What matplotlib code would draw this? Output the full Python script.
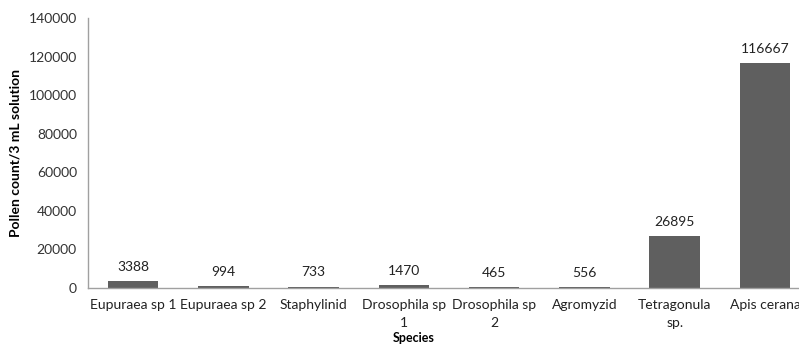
import matplotlib.pyplot as plt

species = ["Eupuraea sp 1", "Eupuraea sp 2", "Staphylinid", "Drosophila sp\n1",
           "Drosophila sp\n2", "Agromyzid", "Tetragonula\nsp.", "Apis cerana"]
counts = [3388, 994, 733, 1470, 465, 556, 26895, 116667]
yticks = [0, 20000, 40000, 60000, 80000, 100000, 120000, 140000]

plt.rcParams['font.family'] = ['Lato', 'DejaVu Sans']

fig = plt.figure(figsize=(7.99, 3.45), dpi=100)
ax = fig.add_axes([88 / 799, 57 / 345, 722 / 799, 270 / 345])

x = list(range(len(species)))
bars = ax.bar(x, counts, width=0.56, color="#5f5f5f")
for b, v in zip(bars, counts):
    ax.annotate(str(v), (b.get_x() + b.get_width() / 2, v), xytext=(0, 6),
                textcoords="offset points", ha="center", va="bottom",
                fontsize=10, color="#222222")

ax.set_xlim(-0.5, len(species) - 0.5)
ax.set_ylim(0, 140000)
ax.set_yticks(yticks)
ax.set_yticklabels([str(t) for t in yticks], fontsize=10, color="#333333")
ax.set_xticks(x)
ax.set_xticklabels(species, fontsize=10, color="#222222", linespacing=1.55)
ax.tick_params(length=0, pad=8)
ax.tick_params(axis="x", pad=8)

for s in ["top", "right"]:
    ax.spines[s].set_visible(False)
for s in ["left", "bottom"]:
    ax.spines[s].set_color("#a0a0a0")
    ax.spines[s].set_linewidth(1)

ax.set_ylabel("Pollen count/3 mL solution", fontsize=10, fontweight="bold", labelpad=5)
fig.text(414 / 799, 1 - 338 / 345, "Species", ha="center", va="center",
         fontsize=9, fontweight="bold")

fig.savefig("out.png", dpi=100)
